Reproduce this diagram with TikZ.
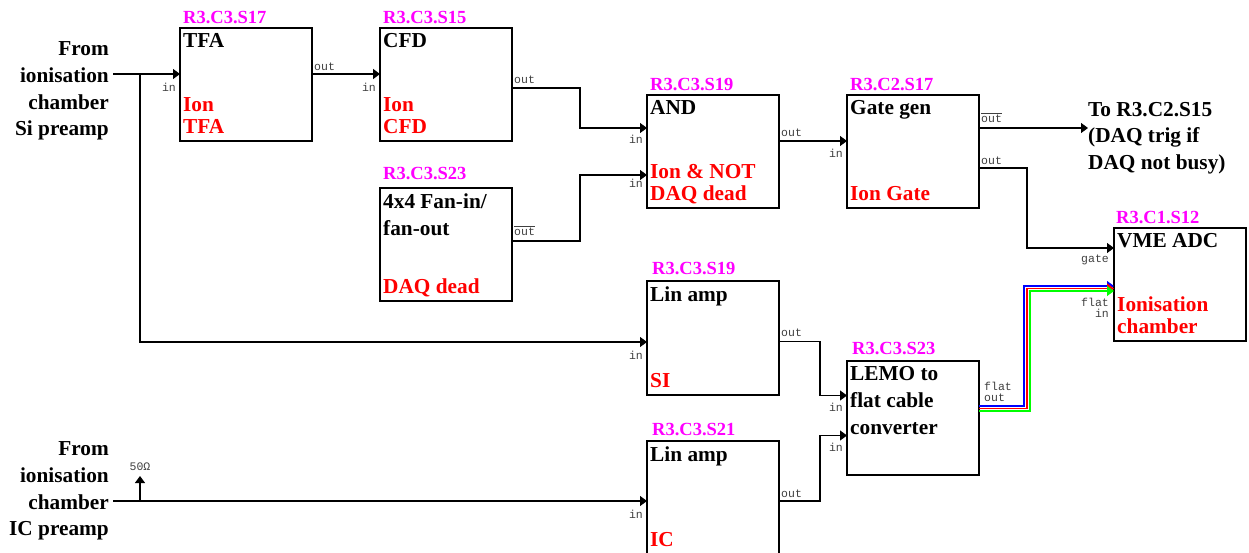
\documentclass[tikz,border=0pt]{standalone}
\usepackage{amsmath}
\usepackage{fontspec}
\setmainfont{Liberation Serif}
\setmonofont{Liberation Mono}
\usetikzlibrary{arrows.meta, positioning, calc}
\definecolor{slotpink}{RGB}{255,0,255}

\begin{document}
\begin{tikzpicture}[
  x=1pt, y=-1pt, >={Triangle[length=7pt,width=10pt]},
  modbox/.style={draw, line width=1.1pt, anchor=north west, minimum width=132pt, minimum height=113pt, inner sep=0pt, outer sep=0pt},
  slot/.style={anchor=south west, inner xsep=3pt, inner ysep=4pt, text=slotpink, text depth=0pt, font=\fontsize{18.5}{22}\bfseries\selectfont},
  title/.style={anchor=north west, inner xsep=3pt, inner ysep=5.5pt, align=left, font=\fontsize{21.3}{26.6}\bfseries\selectfont},
  func/.style={anchor=south west, inner xsep=3pt, inner ysep=7pt, align=left, text=red, text depth=0pt, font=\fontsize{21.3}{22.6}\bfseries\selectfont},
  side/.style={inner sep=0pt, align=right, font=\fontsize{21.3}{26.6}\bfseries\selectfont},
  tag/.style={inner sep=0pt, align=right, text=black!75, font=\fontsize{11.5}{11}\ttfamily\selectfont},
  sig/.style={draw, line width=1.1pt, ->},
  flat/.style={draw, line width=1.1pt, ->}
  ]
  \clip (0,0) rectangle (1249,553);
  % modules
  \node[modbox] (tfa) at (180,28) {};
  \node[modbox] (cfd) at (380,28) {};
  \node[modbox] (fan) at (380,188) {};
  \node[modbox] (and) at (647,95) {};
  \node[modbox] (gate) at (847,95) {};
  \node[modbox] (adc) at (1114,228) {};
  \node[modbox, minimum height=114pt] (linsi) at (647,281) {};
  \node[modbox, minimum height=114pt] (lemo) at (847,361) {};
  \node[modbox] (linic) at (647,441) {};
  % slots
  \node[slot] (tfaSlot) at (tfa.north west) {R3.C3.S17};
  \node[slot] (cfdSlot) at (cfd.north west) {R3.C3.S15};
  \node[slot, yshift=4pt] (fanSlot) at (fan.north west) {R3.C3.S23};
  \node[slot] (andSlot) at (and.north west) {R3.C3.S19};
  \node[slot] (gateSlot) at (gate.north west) {R3.C2.S17};
  \node[slot, xshift=-1pt] (adcSlot) at (adc.north west) {R3.C1.S12};
  \node[slot, xshift=2pt, yshift=2pt] (linsiSlot) at (linsi.north west) {R3.C3.S19};
  \node[slot, xshift=2pt, yshift=2pt] (lemoSlot) at (lemo.north west) {R3.C3.S23};
  \node[slot, xshift=2pt, yshift=1pt] (linicSlot) at (linic.north west) {R3.C3.S21};
  % titles
  \node[title] (tfaName) at (tfa.north west) {TFA};
  \node[title] (cfdName) at (cfd.north west) {CFD};
  \node[title] (fanName) at (fan.north west) {4x4 Fan-in/\\fan-out};
  \node[title] (andName) at (and.north west) {AND};
  \node[title] (gateName) at (gate.north west) {Gate gen};
  \node[title] (adcName) at (adc.north west) {VME ADC};
  \node[title] (linsiName) at (linsi.north west) {Lin amp};
  \node[title] (lemoName) at (lemo.north west) {LEMO to\\flat cable\\converter};
  \node[title] (linicName) at (linic.north west) {Lin amp};
  % functions
  \node[func] (tfaFunc) at (tfa.south west) {Ion\\TFA};
  \node[func] (cfdFunc) at (cfd.south west) {Ion\\CFD};
  \node[func] (fanFunc) at (fan.south west) {DAQ dead};
  \node[func] (andFunc) at (and.south west) {Ion \& NOT\\DAQ dead};
  \node[func] (gateFunc) at (gate.south west) {Ion Gate};
  \node[func] (adcFunc) at (adc.south west) {Ionisation\\chamber};
  \node[func] (linsiFunc) at (linsi.south west) {SI};
  \node[func] (linicFunc) at (linic.south west) {IC};
  % outside texts
  \node[side, anchor=east] (fromSi) at (109,91) {From\\ionisation\\chamber\\Si preamp};
  \node[side, anchor=east] (fromIc) at (109,491) {From\\ionisation\\chamber\\IC preamp};
  \node[side, anchor=west, align=left] (toTrig) at (1088,138) {To R3.C2.S15\\(DAQ trig if\\DAQ not busy)};
  % ports
  \coordinate (tfaI) at ($(tfa.north west)+(0,46)$);
  \coordinate (tfaO) at ($(tfa.north east)+(0,46)$);
  \coordinate (cfdI) at ($(cfd.north west)+(0,46)$);
  \coordinate (cfdO) at ($(cfd.north east)+(0,60)$);
  \coordinate (fanO) at ($(fan.north east)+(0,53)$);
  \coordinate (andA) at ($(and.north west)+(0,33)$);
  \coordinate (andB) at ($(and.north west)+(0,80)$);
  \coordinate (andO) at ($(and.north east)+(0,46)$);
  \coordinate (gateI) at ($(gate.north west)+(0,46)$);
  \coordinate (gateN) at ($(gate.north east)+(0,33)$);
  \coordinate (gateO) at ($(gate.north east)+(0,73)$);
  \coordinate (adcG) at ($(adc.north west)+(0,20)$);
  \coordinate (linsiI) at ($(linsi.north west)+(0,61)$);
  \coordinate (linsiO) at ($(linsi.north east)+(0,60.5)$);
  \coordinate (linicI) at ($(linic.north west)+(0,60)$);
  \coordinate (linicO) at ($(linic.north east)+(0,60)$);
  \coordinate (lemoA) at ($(lemo.north west)+(0,34.5)$);
  \coordinate (lemoB) at ($(lemo.north west)+(0,74.5)$);
  \coordinate (siStart) at ($(fromSi.east |- tfaI)+(4,0)$);
  \coordinate (icStart) at ($(fromIc.east |- linicI)+(4,0)$);
  \coordinate (siTee) at ($(siStart)+(27,0)$);
  \coordinate (icTee) at ($(icStart)+(27,0)$);
  \coordinate (icStub) at ($(icTee)+(0,-25)$);
  \coordinate (trigEnd) at (toTrig.west |- gateN);
  % signals
  \draw[sig] (siStart) -- (tfaI);
  \draw[sig, line width=1.6pt] (tfaO) -- (cfdI);
  \draw[sig] (cfdO) -- ++(68,0) |- (andA);
  \draw[sig] (fanO) -- ++(68,0) |- (andB);
  \draw[sig] (andO) -- (gateI);
  \draw[sig] (gateN) -- (trigEnd);
  \draw[sig] (gateO) -- ++(48,0) |- (adcG);
  \draw[sig] (siTee) |- (linsiI);
  \draw[sig] (icStart) -- (linicI);
  \draw[sig] (icTee) -- (icStub);
  \draw[sig] (linsiO) -- ++(41,0) |- (lemoA);
  \draw[sig] (linicO) -- ++(41,0) |- (lemoB);
  % flat cable
  \coordinate (flatB) at ($(lemo.north east)+(0,45)$);
  \coordinate (flatR) at ($(lemo.north east)+(0,47.5)$);
  \coordinate (flatG) at ($(lemo.north east)+(0,50)$);
  \coordinate (adcB) at ($(adc.north west)+(0,58)$);
  \coordinate (adcR) at ($(adc.north west)+(0,60.5)$);
  \coordinate (adcT) at ($(adc.north west)+(0,63)$);
  \draw[flat, blue] (flatB) -- ++(45,0) |- (adcB);
  \draw[flat, red] (flatR) -- ++(48,0) |- (adcR);
  \draw[flat, green] (flatG) -- ++(51,0) |- (adcT);
  % port labels
  \node[tag, below left=9pt and 4pt of tfaI] (tfaInTag) {in};
  \node[tag, above right=3pt and 2pt of tfaO] (tfaOutTag) {out};
  \node[tag, below left=9pt and 4pt of cfdI] (cfdInTag) {in};
  \node[tag, above right=4pt and 2pt of cfdO] (cfdOutTag) {out};
  \node[tag, above right=5pt and 2pt of fanO] (fanOutTag) {$\overline{\text{out}}$};
  \node[tag, below left=7pt and 4pt of andA] (andInTagA) {in};
  \node[tag, below left=4pt and 4pt of andB] (andInTagB) {in};
  \node[tag, above right=4pt and 2pt of andO] (andOutTag) {out};
  \node[tag, below left=8pt and 4pt of gateI] (gateInTag) {in};
  \node[tag, above right=5pt and 2pt of gateN] (gateNotTag) {$\overline{\text{out}}$};
  \node[tag, above right=3pt and 2pt of gateO] (gateOutTag) {out};
  \node[tag, below left=7pt and 5pt of adcG] (adcGateTag) {gate};
  \node[tag, below left=7pt and 5pt of adcT] (adcFlatTag) {flat\\in};
  \node[tag, below left=9pt and 4pt of linsiI] (linsiInTag) {in};
  \node[tag, above right=5pt and 2pt of linsiO] (linsiOutTag) {out};
  \node[tag, below left=9pt and 4pt of linicI] (linicInTag) {in};
  \node[tag, above right=3pt and 2pt of linicO] (linicOutTag) {out};
  \node[tag, below left=7pt and 4pt of lemoA] (lemoInTagA) {in};
  \node[tag, below left=7pt and 4pt of lemoB] (lemoInTagB) {in};
  \node[tag, above right=4pt and 5pt of flatB, align=left] (lemoFlatTag) {flat\\out};
  \node[tag, above=5pt of icStub] (icLoadTag) {50Ω};
\end{tikzpicture}
\end{document}
